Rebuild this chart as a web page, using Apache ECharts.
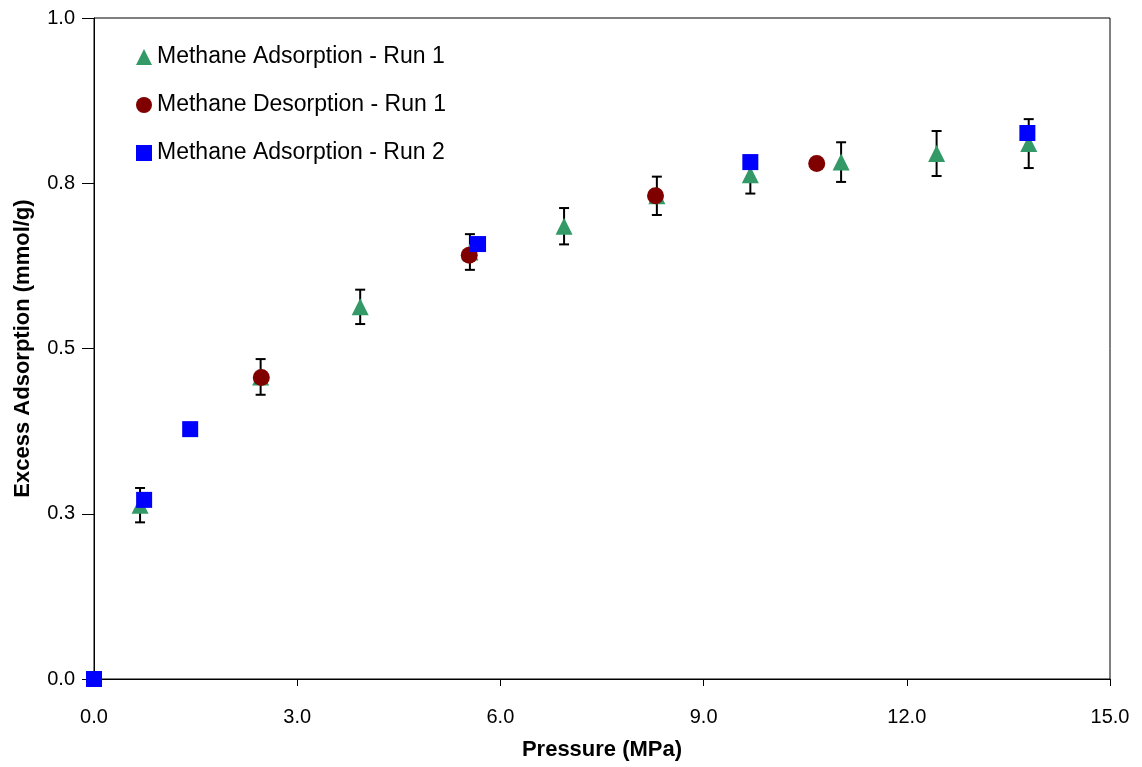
<!DOCTYPE html>
<html>
<head>
<meta charset="utf-8">
<script src="https://cdn.jsdelivr.net/npm/echarts@6/dist/echarts.min.js"></script>
<style>
html,body{margin:0;padding:0;background:#fff;}
#chart{width:1142px;height:767px;}
</style>
</head>
<body>
<div id="chart"></div>
<script>
// Methane Adsorption - Run 1: pressure (MPa), excess adsorption (mmol/g), error
var adsRun1X = [0.68, 2.46, 3.93, 5.55, 6.94, 8.31, 9.69, 11.03, 12.44, 13.80];
var adsRun1Y = [0.263, 0.457, 0.563, 0.646, 0.685, 0.731, 0.763, 0.782, 0.795, 0.810];
var adsRun1Err = [0.026, 0.027, 0.026, 0.027, 0.0275, 0.029, 0.0286, 0.030, 0.034, 0.037];
// Methane Desorption - Run 1
var desRun1X = [2.47, 5.54, 8.29, 10.67];
var desRun1Y = [0.456, 0.641, 0.731, 0.780];
// Methane Adsorption - Run 2
var adsRun2X = [0.0, 0.74, 1.42, 5.67, 9.69, 13.78];
var adsRun2Y = [0.0, 0.271, 0.378, 0.658, 0.782, 0.826];

var seriesNames = ['Methane Adsorption - Run 1', 'Methane Desorption - Run 1', 'Methane Adsorption - Run 2'];
var xAxisTitle = 'Pressure (MPa)';
var yAxisTitle = 'Excess Adsorption (mmol/g)';

function zip(xs, ys) { return xs.map(function (x, i) { return [x, ys[i]]; }); }
var errData = adsRun1X.map(function (x, i) { return [x, adsRun1Y[i], adsRun1Err[i]]; });

var FONT = '"Liberation Sans", Arial, sans-serif';
var chart = echarts.init(document.getElementById('chart'));
chart.setOption({
  animation: false,
  backgroundColor: '#fff',
  grid: { left: 94, right: 32, top: 18, bottom: 88, containLabel: false, outerBoundsMode: 'none',
          show: true, borderColor: '#000', borderWidth: 1 },
  legend: {
    orient: 'vertical', left: 131, top: 40, itemGap: 24, itemWidth: 16, itemHeight: 16,
    textStyle: { fontFamily: FONT, fontSize: 23, lineHeight: 24, color: '#000' },
    data: [
      { name: seriesNames[0], icon: 'triangle' },
      { name: seriesNames[1], icon: 'circle' },
      { name: seriesNames[2], icon: 'rect' }
    ]
  },
  xAxis: {
    type: 'value', min: 0, max: 15, interval: 3,
    name: xAxisTitle, nameLocation: 'middle', nameGap: 60,
    nameTextStyle: { fontFamily: FONT, fontSize: 22, fontWeight: 'bold', color: '#000' },
    axisLine: { lineStyle: { color: '#000', width: 1 } },
    axisTick: { show: true, length: 7, lineStyle: { color: '#000' } },
    axisLabel: { fontFamily: FONT, fontSize: 20, color: '#000', margin: 28, formatter: function (v) { return v.toFixed(1); } },
    splitLine: { show: false }
  },
  yAxis: {
    type: 'value', min: 0, max: 1, interval: 0.25,
    name: yAxisTitle, nameLocation: 'middle', nameGap: 60, nameRotate: 90,
    nameTextStyle: { fontFamily: FONT, fontSize: 22, fontWeight: 'bold', color: '#000' },
    axisLine: { lineStyle: { color: '#000', width: 1 } },
    axisTick: { show: true, length: 12, lineStyle: { color: '#000' } },
    axisLabel: { fontFamily: FONT, fontSize: 20, color: '#000', margin: 19, formatter: function (v) { return v.toFixed(1); } },
    splitLine: { show: false }
  },
  series: [
    {
      type: 'custom', name: 'err', data: errData, encode: { x: 0, y: 1 }, z: 1,
      renderItem: function (params, api) {
        var x = api.value(0), y = api.value(1), e = api.value(2);
        var top = api.coord([x, y + e]);
        var bot = api.coord([x, y - e]);
        var hw = 5;
        var st = { stroke: '#000', lineWidth: 2 };
        return {
          type: 'group',
          children: [
            { type: 'line', shape: { x1: top[0], y1: top[1], x2: bot[0], y2: bot[1] }, style: st },
            { type: 'line', shape: { x1: top[0] - hw, y1: top[1], x2: top[0] + hw, y2: top[1] }, style: st },
            { type: 'line', shape: { x1: bot[0] - hw, y1: bot[1], x2: bot[0] + hw, y2: bot[1] }, style: st }
          ]
        };
      }
    },
    { type: 'scatter', name: seriesNames[0], data: zip(adsRun1X, adsRun1Y), symbol: 'triangle', symbolSize: 17, itemStyle: { color: '#339966', opacity: 1 }, z: 2 },
    { type: 'scatter', name: seriesNames[1], data: zip(desRun1X, desRun1Y), symbol: 'circle', symbolSize: 17, itemStyle: { color: '#800000', opacity: 1 }, z: 3 },
    { type: 'scatter', name: seriesNames[2], data: zip(adsRun2X, adsRun2Y), symbol: 'rect', symbolSize: 16, itemStyle: { color: '#0000ff', opacity: 1 }, z: 4 }
  ]
});
</script>
</body>
</html>
